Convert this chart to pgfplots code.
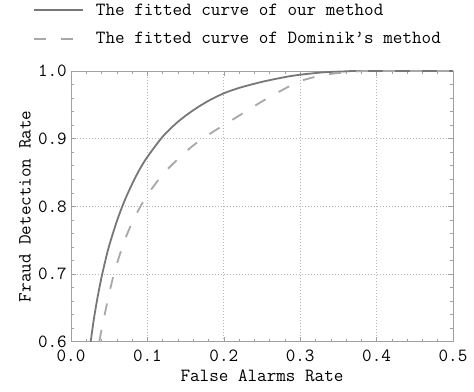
\documentclass[border=0pt]{standalone}
\usepackage{fontspec}
\usepackage{pgfplots}
\pgfplotsset{compat=1.18}
\definecolor{solidc}{HTML}{777777}
\definecolor{dashc}{HTML}{A8A8A8}
\definecolor{framec}{HTML}{A0A0A0}
\definecolor{gridc}{HTML}{B4B4B4}
\begin{document}
\begin{tikzpicture}[font=\ttfamily\fontsize{18.6}{22}\selectfont]
\begin{axis}[
  scale only axis, width=382pt, height=270.7pt,
  xmin=0, xmax=0.5, ymin=0.6, ymax=1.0,
  xtick={0,0.1,0.2,0.3,0.4,0.5},
  ytick={0.6,0.7,0.8,0.9,1.0},
  minor tick num=4,
  tick align=inside,
  major tick length=5pt, minor tick length=3pt,
  every tick/.style={framec, line width=0.5pt},
  axis line style={framec, line width=0.7pt},
  grid=major,
  major grid style={dash pattern=on 1pt off 2pt, gridc, line width=0.6pt},
  tick label style={/pgf/number format/fixed, /pgf/number format/fixed zerofill, /pgf/number format/precision=1, /pgf/number format/assume math mode=true, inner sep=0pt},
  xticklabel style={anchor=center, yshift=-14pt},
  yticklabel style={anchor=east, xshift=-4pt},
  clip=false,
  xlabel={False Alarms Rate},
  ylabel={Fraud Detection Rate},
  xlabel style={at={(axis description cs:0.5,-0.125)}, anchor=center, inner sep=0pt},
  ylabel style={at={(axis description cs:-0.1204,0.5)}, anchor=center, inner sep=0pt},
  legend cell align=left,
  legend image code/.code={\draw[#1] (0pt,0pt) -- (49pt,0pt);},
  legend style={draw=none, fill=none, inner sep=0pt, anchor=north west,
    at={(axis description cs:-0.0995,1.25)}, column sep=12pt, row sep=16pt,
    nodes={inner sep=0pt}},
]
\addplot[solidc, line width=1.8pt, smooth] coordinates {
(0.0258,0.600) (0.030,0.634) (0.035,0.667) (0.040,0.6955) (0.045,0.720)
(0.050,0.742) (0.060,0.778) (0.070,0.808) (0.080,0.833) (0.090,0.855)
(0.100,0.873) (0.120,0.903) (0.140,0.925) (0.160,0.942) (0.180,0.956)
(0.200,0.967) (0.220,0.975) (0.250,0.984) (0.280,0.991) (0.300,0.9945)
(0.330,0.998) (0.360,0.9995) (0.380,1.000) (0.500,1.000)};
\addlegendentry{The fitted curve of our method}
\addplot[dashc, line width=1.8pt, smooth, dash pattern=on 12pt off 15pt] coordinates {
(0.037,0.600) (0.040,0.618) (0.045,0.645) (0.050,0.671) (0.055,0.695)
(0.060,0.715) (0.070,0.749) (0.080,0.776) (0.090,0.798) (0.100,0.817)
(0.120,0.847) (0.140,0.870) (0.160,0.890) (0.180,0.906) (0.200,0.920)
(0.220,0.934) (0.250,0.955) (0.280,0.974) (0.300,0.985) (0.330,0.994)
(0.360,0.998) (0.390,1.000) (0.500,1.000)};
\addlegendentry{The fitted curve of Dominik’s method}
\end{axis}
\pgfresetboundingbox
\path (-71pt,-49.3pt) rectangle (403pt,341.7pt);
\end{tikzpicture}
\end{document}
